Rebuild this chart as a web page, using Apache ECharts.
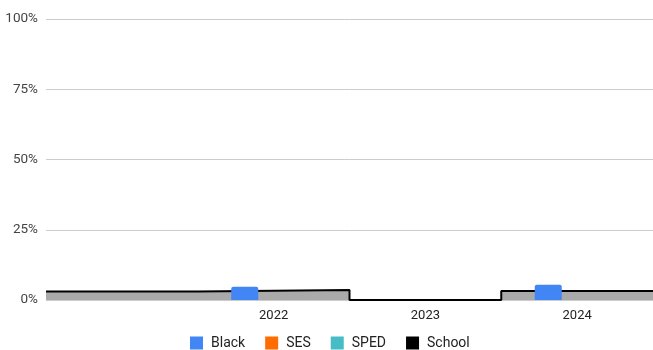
<!DOCTYPE html>
<html>
<head>
<meta charset="utf-8">
<script src="https://cdn.jsdelivr.net/npm/echarts@6/dist/echarts.min.js"></script>
<style>
  html, body { margin: 0; padding: 0; background: #fff; }
  #chart { width: 653px; height: 350px; }
</style>
</head>
<body>
<div id="chart"></div>
<script>
// data
const categories = ['', '2022', '2023', '2024'];
const blackValues = [0, 4.7, 0, 5.4];
const sesValues = [0, 0, 0, 0];
const spedValues = [0, 0, 0, 0];
const schoolValues = [3.0, 3.6, 0, 3.2];
const yTicks = [0, 25, 50, 75, 100];

// stepped area spans whole categories, so put it on a hidden value axis
const schoolPoints = schoolValues.map((v, i) => [i, v]);
schoolPoints.push([schoolValues.length, schoolValues[schoolValues.length - 1]]);

const chart = echarts.init(document.getElementById('chart'));

const barCommon = {
  type: 'bar',
  barWidth: 27,
  barGap: '7%',
  z: 3
};

chart.setOption({
  animation: false,
  textStyle: { fontFamily: 'Roboto, Arial, sans-serif' },
  grid: { left: 46, right: 0, top: 19, bottom: 50 },
  legend: {
    top: 336,
    left: 190,
    padding: 0,
    itemWidth: 13,
    itemHeight: 13,
    itemGap: 20,
    icon: 'rect',
    textStyle: { color: '#222', fontSize: 14, padding: [0, 0, 0, 3] },
    data: ['Black', 'SES', 'SPED', 'School']
  },
  xAxis: [{
    type: 'category',
    data: categories,
    axisLine: { show: false },
    axisTick: { show: false },
    axisLabel: { color: '#222', fontSize: 13, margin: 9 }
  }, {
    type: 'value',
    min: 0,
    max: categories.length,
    show: false
  }],
  yAxis: {
    type: 'value',
    min: yTicks[0],
    max: yTicks[yTicks.length - 1],
    interval: 25,
    axisLine: { show: false },
    axisTick: { show: false },
    axisLabel: { color: '#444', fontSize: 13.5, margin: 8, formatter: '{value}%' },
    splitLine: { lineStyle: { color: '#cccccc' } }
  },
  series: [
    Object.assign({}, barCommon, { name: 'Black', data: blackValues, itemStyle: { color: '#4285f4', borderRadius: [2, 2, 0, 0] } }),
    Object.assign({}, barCommon, { name: 'SES', data: sesValues, itemStyle: { color: '#ff6d01' } }),
    Object.assign({}, barCommon, { name: 'SPED', data: spedValues, itemStyle: { color: '#46bdc6' } }),
    {
      name: 'School',
      type: 'line',
      xAxisIndex: 1,
      step: 'end',
      data: schoolPoints,
      symbol: 'none',
      z: 2,
      color: '#000',
      lineStyle: { color: '#000', width: 2 },
      areaStyle: { color: '#aaaaaa', opacity: 1 }
    }
  ]
});
</script>
</body>
</html>
